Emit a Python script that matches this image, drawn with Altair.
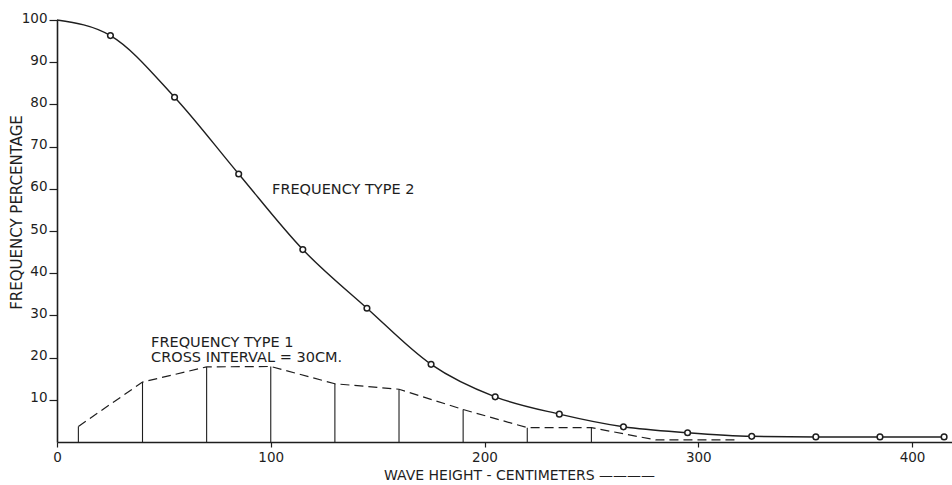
import altair as alt
import pandas as pd

# Frequency type 2 (smooth curve with open circles)
curve_x = [0, 25, 55, 85, 115, 145, 175, 205, 235, 265, 295, 325, 355, 385, 415]
curve_y = [100, 96.3, 81.7, 63.5, 45.6, 31.7, 18.4, 10.7, 6.6, 3.6, 2.2, 1.35, 1.2, 1.2, 1.2]

# Frequency type 1 (cross interval = 30 cm): vertical bars and dashed outline
hist_x = [10, 40, 70, 100, 130, 160, 190, 220, 250]
hist_y = [3.7, 14.2, 17.8, 17.9, 13.8, 12.5, 7.7, 3.4, 3.4]
tail_x = [280, 318]
tail_y = [0.5, 0.5]

# Annotations
ann_text = ["FREQUENCY TYPE 2", "FREQUENCY TYPE 1", "CROSS INTERVAL = 30CM."]
ann_x = [100.6, 44.0, 44.0]
ann_y = [59.7, 23.4, 19.8]

x_ticks = [0, 100, 200, 300, 400]
y_ticks = [10, 20, 30, 40, 50, 60, 70, 80, 90, 100]

FONT = "DejaVu Sans"
INK = "#1e1e1e"
X_MAX = 418.7

curve_df = pd.DataFrame({"x": curve_x, "y": curve_y})
pts_df = pd.DataFrame({"x": curve_x[1:], "y": curve_y[1:]})
hist_df = pd.DataFrame({"x": hist_x, "y": hist_y})
poly_df = pd.DataFrame({"x": hist_x + tail_x, "y": hist_y + tail_y})
ann_df = pd.DataFrame({"x": ann_x, "y": ann_y, "t": ann_text})

xs = alt.Scale(domain=[0, X_MAX], nice=False, zero=False)
ys = alt.Scale(domain=[0, 100], nice=False, zero=False)

x_axis = alt.Axis(
    values=x_ticks, grid=False, title="WAVE HEIGHT - CENTIMETERS ————",
    tickSize=5, tickColor=INK, tickWidth=1.2,
    domainColor=INK, domainWidth=1.6,
    labelFont=FONT, labelFontSize=13.5, labelColor=INK, labelBaseline="middle",
    labelPadding=10, labelFlush=False,
    titleFont=FONT, titleFontSize=14, titleFontWeight="normal", titleColor=INK,
    titleX=462, titleY=33, titleAlign="center", titleBaseline="middle",
)
y_axis = alt.Axis(
    values=y_ticks, grid=False, title="FREQUENCY PERCENTAGE",
    tickSize=8, tickColor=INK, tickWidth=1.2,
    domainColor=INK, domainWidth=1.6,
    labelFont=FONT, labelFontSize=13.5, labelColor=INK, labelBaseline="middle",
    labelPadding=2, labelOffset=-2, labelFlush=False,
    titleFont=FONT, titleFontSize=15, titleFontWeight="normal", titleColor=INK,
    titleX=-41, titleY=192, titleAngle=270, titleAlign="center", titleBaseline="middle",
)

X = alt.X("x:Q", scale=xs, axis=x_axis)
Y = alt.Y("y:Q", scale=ys, axis=y_axis)

curve = alt.Chart(curve_df).mark_line(
    interpolate="monotone", color=INK, strokeWidth=1.4
).encode(x=X, y=Y)

points = alt.Chart(pts_df).mark_point(
    shape="circle", filled=True, fill="white", stroke=INK, strokeWidth=1.5, size=32, opacity=1
).encode(x=X, y=Y)

bars = alt.Chart(hist_df).mark_rule(color=INK, strokeWidth=1.1).encode(
    x=X, y=Y, y2=alt.datum(0)
)

outline = alt.Chart(poly_df).mark_line(
    color=INK, strokeWidth=1.2, strokeDash=[9, 5]
).encode(x=X, y=Y)

labels = alt.Chart(ann_df).mark_text(
    align="left", baseline="middle", font=FONT, fontSize=14.5, color=INK
).encode(x=X, y=Y, text="t:N")

chart = alt.layer(bars, outline, curve, points, labels).properties(
    width=895, height=422,
    padding={"left": 57, "top": 20, "right": 0, "bottom": 43},
    autosize=alt.AutoSizeParams(type="none"),
    background="white",
).configure_view(stroke=None)

chart.save("out.html", embed_options={"renderer": "svg", "actions": False})
